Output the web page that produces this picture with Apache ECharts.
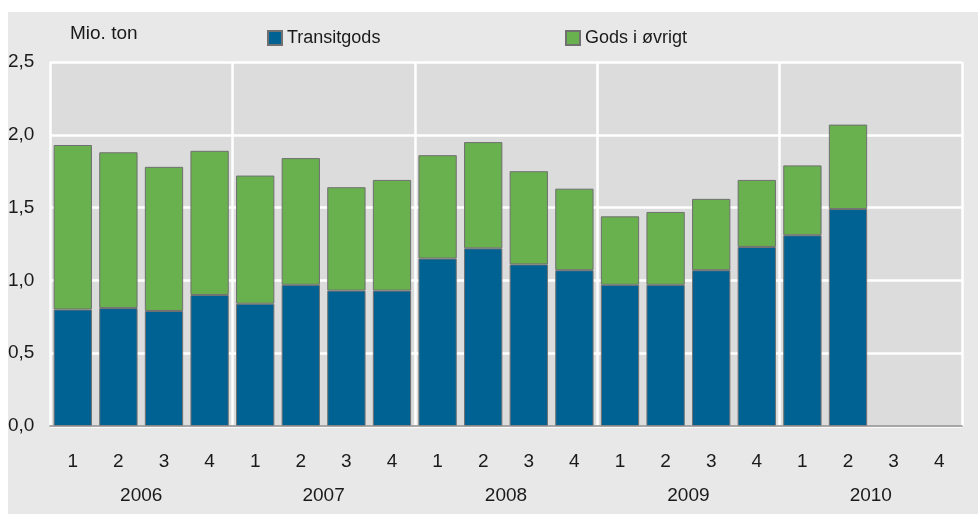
<!DOCTYPE html>
<html>
<head>
<meta charset="utf-8">
<script src="https://cdn.jsdelivr.net/npm/echarts@6/dist/echarts.min.js"></script>
<style>
html,body{margin:0;padding:0;background:#ffffff;}
#chart{width:978px;height:514px;}
</style>
</head>
<body>
<div id="chart"></div>
<script>
const quarters = ['1','2','3','4','1','2','3','4','1','2','3','4','1','2','3','4','1','2','3','4'];
const years = ['2006','2007','2008','2009','2010'];
const transit = [0.80,0.81,0.79,0.90, 0.84,0.97,0.93,0.93, 1.15,1.22,1.11,1.07, 0.97,0.97,1.07,1.23, 1.31,1.49,null,null];
const total   = [1.93,1.88,1.78,1.89, 1.72,1.84,1.64,1.69, 1.86,1.95,1.75,1.63, 1.44,1.47,1.56,1.69, 1.79,2.07,null,null];
const other = total.map((t,i)=> t==null ? null : +(t - transit[i]).toFixed(3));
const yTicks = ['0,0','0,5','1,0','1,5','2,0','2,5'];

const FONT = '"Liberation Sans", Arial, sans-serif';
const FS = 19;
const TXT = '#1a1a1a';
const chart = echarts.init(document.getElementById('chart'), null, {renderer:'canvas'});
chart.setOption({
  animation:false,
  backgroundColor:'#ffffff',
  graphic:[{type:'rect', z:-10, silent:true, shape:{x:8,y:12,width:970,height:502}, style:{fill:'#e8e8e8'}}],
  title:{text:'Mio. ton', left:65, top:19, textStyle:{fontFamily:FONT, fontSize:FS, fontWeight:'normal', color:TXT}},
  legend:[
    {data:['Transitgods'], left:262, top:24, itemWidth:14, itemHeight:14, itemGap:0, icon:'rect',
     textStyle:{fontFamily:FONT, fontSize:18, color:TXT, padding:[0,0,0,0]}},
    {data:['Gods i øvrigt'], left:560, top:24, itemWidth:14, itemHeight:14, itemGap:0, icon:'rect',
     textStyle:{fontFamily:FONT, fontSize:18, color:TXT, padding:[0,0,0,0]}}
  ],
  grid:{left:50, right:16, top:62, bottom:88, show:true, backgroundColor:'#dcdcdc', borderWidth:0},
  xAxis:[
    {type:'category', data:quarters, position:'bottom',
     axisLine:{show:true, lineStyle:{color:'#8a8a8a', width:1.5}},
     axisTick:{show:false},
     axisLabel:{margin:26, fontFamily:FONT, fontSize:FS, color:TXT, interval:0},
     splitLine:{show:false}, z:5},
    {type:'category', data:years, position:'bottom',
     axisLine:{show:false}, axisTick:{show:false},
     axisLabel:{margin:60, fontFamily:FONT, fontSize:FS, color:TXT},
     splitLine:{show:true, lineStyle:{color:'#ffffff', width:2.5}}}
  ],
  yAxis:{type:'value', min:0, max:2.5, interval:0.5,
    axisLine:{show:false}, axisTick:{show:false},
    axisLabel:{align:'left', margin:42, fontFamily:FONT, fontSize:FS, color:TXT,
      formatter:(v)=> yTicks[Math.round(v/0.5)]},
    splitLine:{show:true, lineStyle:{color:'#ffffff', width:2.5}}},
  series:[
    {name:'Transitgods', type:'bar', stack:'s', data:transit, barCategoryGap:'16%',
     itemStyle:{color:'#006293', borderColor:'#707070', borderWidth:1}},
    {name:'Gods i øvrigt', type:'bar', stack:'s', data:other, barCategoryGap:'16%',
     itemStyle:{color:'#69b04e', borderColor:'#707070', borderWidth:1}}
  ]
});
</script>
</body>
</html>
